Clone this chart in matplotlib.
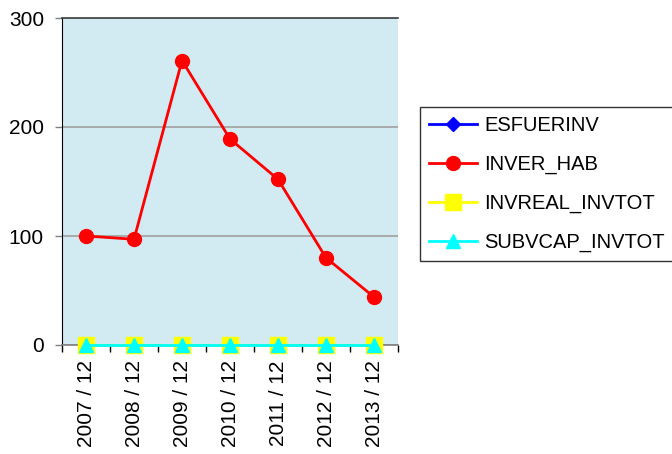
import matplotlib
matplotlib.use("Agg")
import matplotlib.pyplot as plt
import numpy as np

categories = ["2007 / 12", "2008 / 12", "2009 / 12", "2010 / 12", "2011 / 12", "2012 / 12", "2013 / 12"]
esfuerinv = [0, 0, 0, 0, 0, 0, 0]
inver_hab = [100, 97, 261, 189, 152, 80, 44]
invreal_invtot = [0, 0, 0, 0, 0, 0, 0]
subvcap_invtot = [0, 0, 0, 0, 0, 0, 0]
yticks = [0, 100, 200, 300]

plt.rcParams['font.family'] = ['Liberation Sans', 'DejaVu Sans']

fig = plt.figure(figsize=(6.72, 4.54), dpi=100)
ax = fig.add_axes([62/672, 1-345/454, 336/672, 327/454])
ax.set_facecolor('#d2eaf2')

x = np.arange(len(categories))
ax.plot(x, esfuerinv, color='#0000ff', marker='D', markersize=7, lw=2, label='ESFUERINV', clip_on=False, zorder=3)
ax.plot(x, inver_hab, color='#ff0000', marker='o', markersize=10, lw=2, label='INVER_HAB', clip_on=False, zorder=4)
ax.plot(x, invreal_invtot, color='#ffff00', marker='s', markersize=11, lw=2, label='INVREAL_INVTOT', clip_on=False, zorder=5)
ax.plot(x, subvcap_invtot, color='#00ffff', marker='^', markersize=10, lw=2, label='SUBVCAP_INVTOT', clip_on=False, zorder=6)

ax.set_xlim(-0.5, len(categories)-0.5)
ax.set_ylim(0, 300)
ax.set_yticks(yticks)
ax.set_yticklabels([str(v) for v in yticks], fontsize=15)
ax.yaxis.grid(True, color='#a0a0a0', lw=1.2)
ax.set_axisbelow(True)

ax.set_xticks(x)
ax.set_xticklabels(categories, rotation=90, fontsize=15)
ax.tick_params(axis='x', length=0, pad=11)
ax.set_xticks(np.arange(len(categories)+1)-0.5, minor=True)
ax.tick_params(axis='x', which='minor', length=5, width=1, color='black', direction='out')
ax.tick_params(axis='y', length=5, width=1, color='#808080', direction='out', pad=8)

ax.spines['right'].set_visible(False)
ax.spines['top'].set_color('#404040')
ax.spines['top'].set_linewidth(1.2)
ax.spines['left'].set_color('black')
ax.spines['bottom'].set_color('#808080')
ax.spines['bottom'].set_linewidth(1.2)

leg = fig.legend(loc='upper left', bbox_to_anchor=(420/672, 1-107/454), fontsize=14.5,
                 frameon=True, fancybox=False, edgecolor='black', handlelength=2.4,
                 labelspacing=0.98, borderpad=0.45, handletextpad=0.35, borderaxespad=0)
leg.get_frame().set_linewidth(1)

fig.savefig('out.png', dpi=100)
